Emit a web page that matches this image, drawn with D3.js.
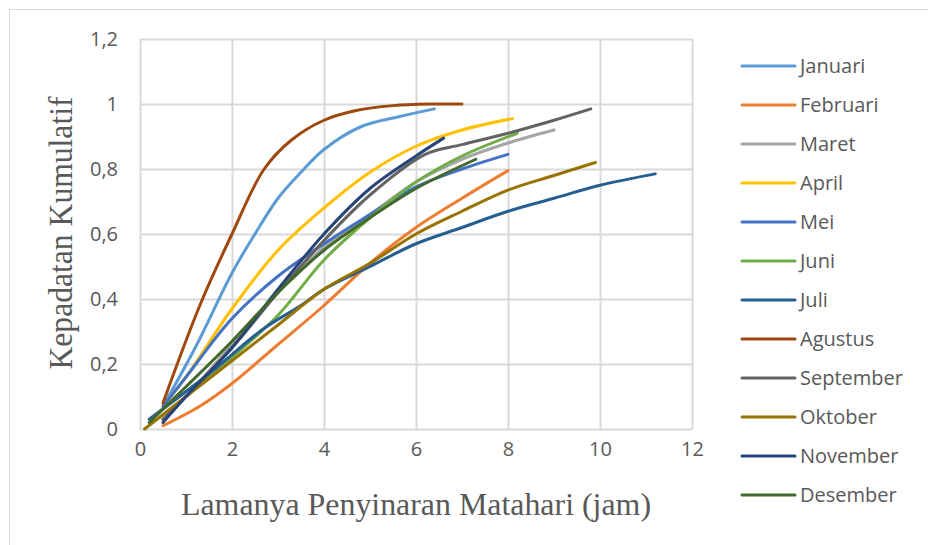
<!DOCTYPE html>
<html>
<head>
<meta charset="utf-8">
<script src="https://cdn.jsdelivr.net/npm/d3@7"></script>
<style>
  body { margin: 0; background: #fff; }
  svg text { fill: #595959; }
</style>
</head>
<body>
<div id="chart"></div>
<script>
// sunshine duration (jam) vs cumulative density, one array per month
var months = ["Januari","Februari","Maret","April","Mei","Juni","Juli","Agustus","September","Oktober","November","Desember"];
var colors = ["#5B9BD5","#ED7D31","#A5A5A5","#FFC000","#4472C4","#70AD47","#255E91","#9E480E","#636363","#997300","#264478","#43682B"];

var januari   = [[0.5,0.07],[1.2,0.25],[2,0.48],[2.5,0.6],[3,0.71],[3.5,0.79],[4,0.86],[4.8,0.93],[5.6,0.96],[6.4,0.985]];
var februari  = [[0.5,0.01],[1.3,0.07],[2,0.14],[3,0.26],[4,0.38],[5,0.51],[6,0.62],[7,0.71],[8,0.795]];
var maret     = [[0.5,0.03],[1,0.1],[2,0.26],[3,0.42],[4,0.56],[5,0.66],[6,0.76],[7,0.83],[8,0.88],[9,0.92]];
var april     = [[0.5,0.07],[1,0.16],[2,0.37],[3,0.55],[4,0.68],[5,0.79],[6,0.87],[7,0.92],[8.1,0.955]];
var mei       = [[0.5,0.07],[1,0.16],[2,0.34],[3,0.47],[4,0.57],[5,0.66],[6,0.745],[7,0.8],[8,0.845]];
var juni      = [[0.5,0.03],[1,0.1],[2,0.22],[3,0.35],[4,0.52],[5,0.65],[6,0.76],[7,0.84],[8.2,0.91]];
var juli      = [[0.2,0.03],[1.5,0.17],[2.7,0.31],[3.5,0.38],[4,0.43],[5,0.5],[6,0.57],[7,0.62],[8,0.67],[9,0.71],[10,0.75],[11.2,0.785]];
var agustus   = [[0.5,0.08],[1.3,0.38],[2,0.6],[2.7,0.8],[3.3,0.89],[4,0.95],[4.7,0.98],[5.5,0.995],[6.3,1],[7,1]];
var september = [[0.5,0.03],[1,0.1],[2,0.25],[3,0.42],[4,0.58],[5,0.72],[6.2,0.845],[7,0.875],[8,0.91],[9,0.95],[9.8,0.985]];
var oktober   = [[0.1,0],[1,0.1],[2,0.21],[3,0.32],[4,0.43],[5,0.51],[6,0.6],[7,0.67],[8,0.735],[9,0.78],[9.9,0.82]];
var november  = [[0.5,0.02],[1,0.1],[2,0.25],[3,0.43],[4,0.6],[5,0.74],[6,0.84],[6.6,0.895]];
var desember  = [[0.2,0.02],[1,0.13],[2,0.27],[3,0.42],[4,0.55],[5,0.65],[6,0.74],[7.3,0.83]];

var series = [januari,februari,maret,april,mei,juni,juli,agustus,september,oktober,november,desember];
var xTicks = [0,2,4,6,8,10,12];
var yTicks = [0,0.2,0.4,0.6,0.8,1,1.2];

var W = 928, H = 545;
var margin = {top: 39, left: 140, right: 236, bottom: 116};
var width = W - margin.left - margin.right,
    height = H - margin.top - margin.bottom;

var svg = d3.select("#chart").append("svg")
    .attr("width", W).attr("height", H);

// outer chart frame
svg.append("rect")
    .attr("x", 9.5).attr("y", 9.5)
    .attr("width", W).attr("height", H)
    .attr("fill", "none").attr("stroke", "#d9d9d9");

var g = svg.append("g")
    .attr("transform", "translate(" + margin.left + "," + margin.top + ")");

var x = d3.scaleLinear().domain([0, 12]).range([0, width]);
var y = d3.scaleLinear().domain([0, 1.2]).range([height, 0]);

var fmt = function(d) { return String(+d.toFixed(1)).replace(".", ","); };

// grid
g.append("g")
    .attr("transform", "translate(0," + height + ")")
    .call(d3.axisBottom(x).tickValues(xTicks).tickSize(-height).tickFormat(fmt).tickPadding(13))
    .call(function(a) {
      a.select(".domain").remove();
      a.selectAll("line").attr("stroke", "#d9d9d9").attr("stroke-width", 2);
      a.selectAll("text").style("font-family", "Open Sans").style("font-size", "20px").attr("fill", "#595959");
    });

g.append("g")
    .call(d3.axisLeft(y).tickValues(yTicks).tickSize(-width).tickFormat(fmt).tickPadding(22))
    .call(function(a) {
      a.select(".domain").remove();
      a.selectAll("line").attr("stroke", "#d9d9d9").attr("stroke-width", 2);
      a.selectAll("text").style("font-family", "Open Sans").style("font-size", "20px").attr("fill", "#595959");
    });

var line = d3.line()
    .x(function(d) { return x(d[0]); })
    .y(function(d) { return y(d[1]); })
    .curve(d3.curveCatmullRom.alpha(0.5));

g.selectAll(".series")
    .data(series)
    .enter().append("path")
    .attr("class", "series")
    .attr("d", line)
    .attr("fill", "none")
    .attr("stroke", function(d, i) { return colors[i]; })
    .attr("stroke-width", 3)
    .attr("stroke-linecap", "round")
    .attr("stroke-linejoin", "round");

// axis titles
svg.append("text")
    .attr("x", 416).attr("y", 515)
    .attr("text-anchor", "middle")
    .attr("textLength", 470)
    .attr("lengthAdjust", "spacingAndGlyphs")
    .style("font-family", "Liberation Serif")
    .style("font-size", "31px")
    .text("Lamanya Penyinaran Matahari (jam)");

svg.append("text")
    .attr("transform", "translate(72,233) rotate(-90)")
    .attr("text-anchor", "middle")
    .attr("textLength", 273)
    .attr("lengthAdjust", "spacingAndGlyphs")
    .style("font-family", "Liberation Serif")
    .style("font-size", "33px")
    .text("Kepadatan Kumulatif");

// legend
var legend = svg.append("g").attr("transform", "translate(742,66)");
months.forEach(function(m, i) {
  var row = legend.append("g").attr("transform", "translate(0," + (i * 39) + ")");
  row.append("line")
      .attr("x1", 0).attr("x2", 53)
      .attr("stroke", colors[i]).attr("stroke-width", 3).attr("stroke-linecap", "round");
  row.append("text")
      .attr("x", 58).attr("dy", "0.35em")
      .style("font-family", "Open Sans")
      .style("font-size", "20px")
      .text(m);
});
</script>
</body>
</html>
